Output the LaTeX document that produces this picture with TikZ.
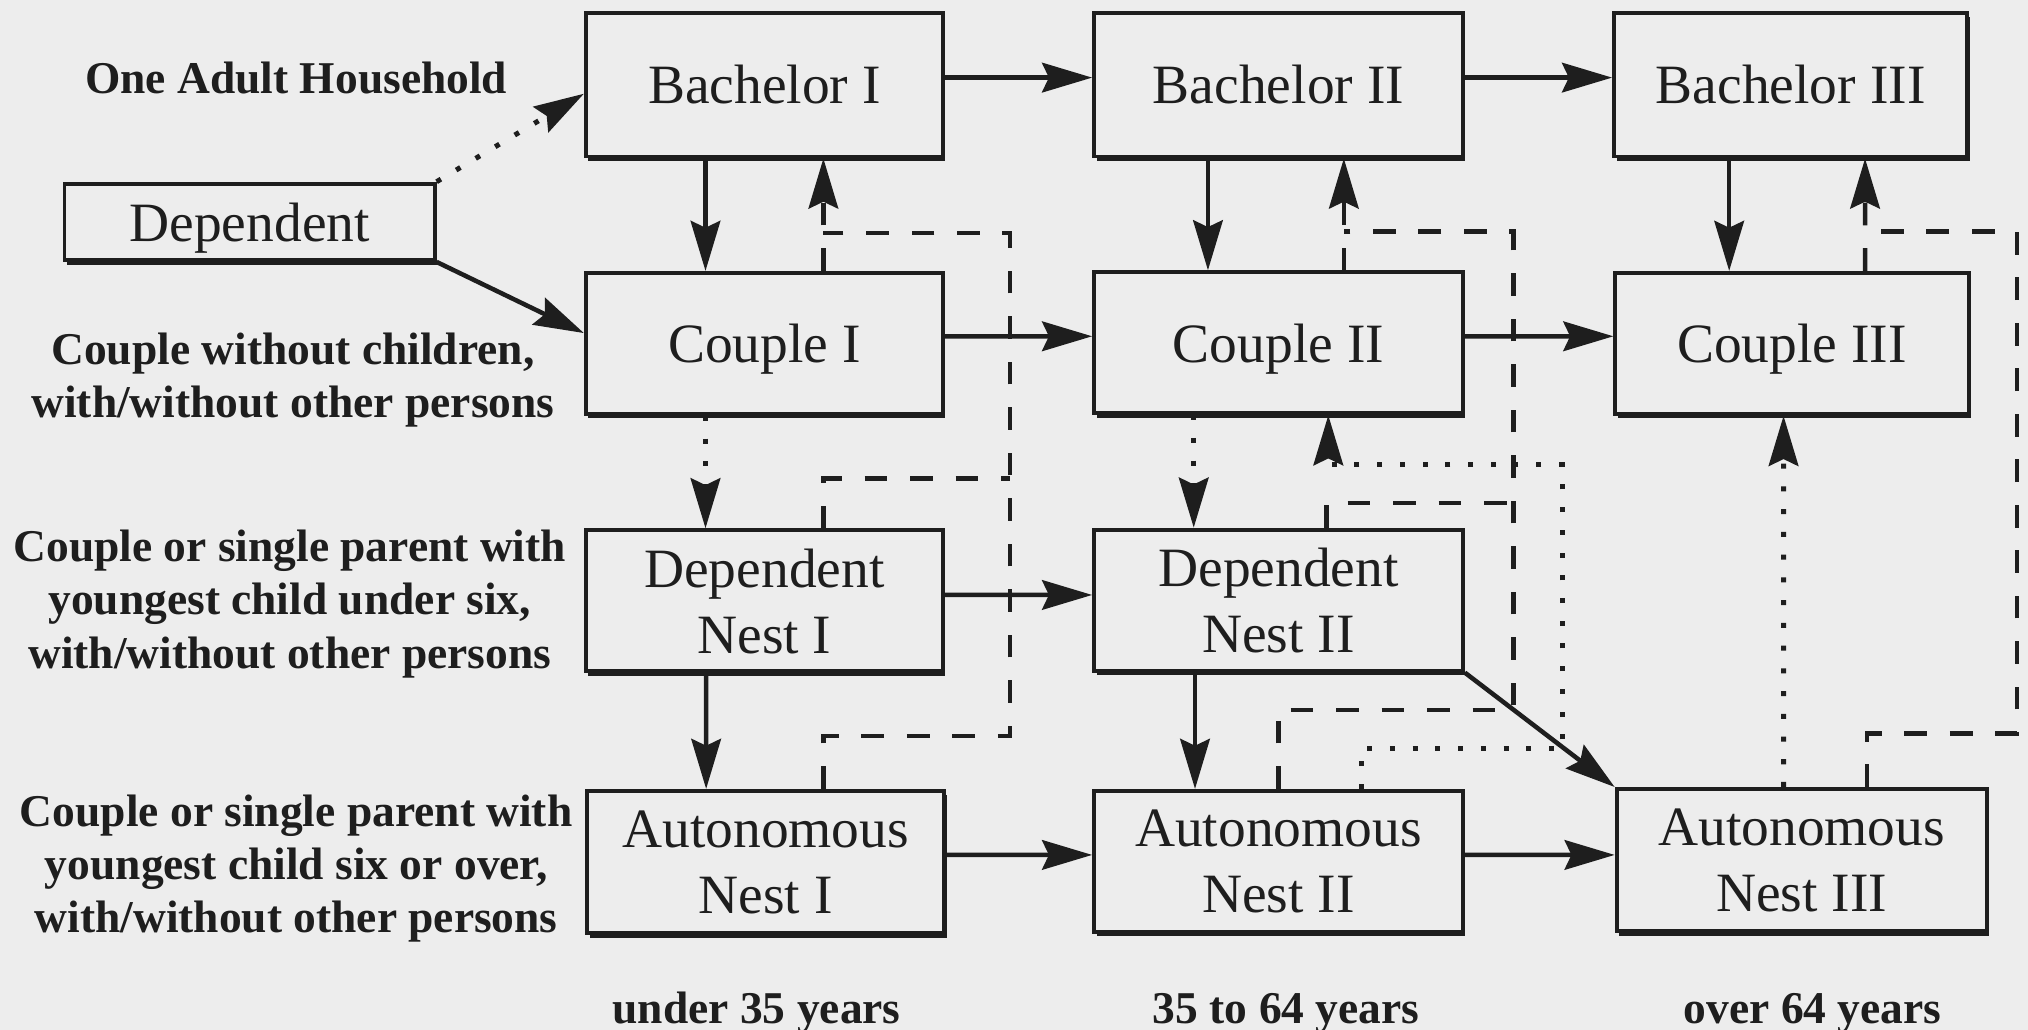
\documentclass[tikz,border=0pt]{standalone}
\usepackage{fontspec}
\setmainfont{Liberation Serif}
\usetikzlibrary{arrows.meta,shadows}
\definecolor{paper}{RGB}{237,237,237}
\definecolor{ink}{RGB}{30,30,30}
\begin{document}
\begin{tikzpicture}[x=0.01cm,y=-0.01cm,
  stage/.style={draw=ink, line width=0.85pt, fill=paper, inner sep=0pt, align=center,
    text=ink, text depth=0pt, font=\fontsize{12.2}{14.5}\selectfont,
    drop shadow={shadow xshift=0.55pt, shadow yshift=-1.0pt, opacity=1, fill=ink}},
  grouplabel/.style={inner sep=0pt, align=center, text=ink,
    font=\fontsize{10}{11.7}\selectfont\bfseries},
  flow/.style={draw=ink, line width=1pt, -{Stealth[length=11pt,width=6.5pt,inset=1.5pt]}},
  dotway/.style={draw=ink, line width=1.1pt, dash pattern=on 1.1pt off 3.9pt},
  dashway/.style={draw=ink, line width=1pt, dash pattern=on 5pt off 5pt}]

% page and background
\useasboundingbox (0,0) rectangle (1568,796);
\clip (0,0) rectangle (1568,796);
\fill[paper] (0,0) rectangle (1568,796);

% life-cycle stages
\node[stage, minimum width=2.76cm, minimum height=1.11cm] (b1) at (591,65.5) {Bachelor I};
\node[stage, minimum width=2.85cm, minimum height=1.11cm] (b2) at (988.5,65.5) {Bachelor II};
\node[stage, minimum width=2.73cm, minimum height=1.11cm] (b3) at (1384.5,65.5) {Bachelor III};
\node[stage, minimum width=2.76cm, minimum height=1.09cm] (c1) at (591,265.5) {Couple I};
\node[stage, minimum width=2.85cm, minimum height=1.09cm] (c2) at (988.5,265) {Couple II};
\node[stage, minimum width=2.73cm, minimum height=1.09cm] (c3) at (1385.5,265.5) {Couple III};
\node[stage, minimum width=2.76cm, minimum height=1.09cm] (d1) at (591,464.5) {Dependent\\Nest I};
\node[stage, minimum width=2.85cm, minimum height=1.09cm] (d2) at (988.5,464) {Dependent\\Nest II};
\node[stage, minimum width=2.76cm, minimum height=1.10cm] (a1) at (592,666.5) {Autonomous\\Nest I};
\node[stage, minimum width=2.85cm, minimum height=1.09cm] (a2) at (988.5,666) {Autonomous\\Nest II};
\node[stage, minimum width=2.86cm, minimum height=1.10cm] (a3) at (1393,665) {Autonomous\\Nest III};
\node[stage, minimum width=2.86cm, minimum height=0.59cm] (dep) at (193,171.5) {Dependent};

% row and column captions
\node[grouplabel] (lone) at (229,60) {One Adult Household};
\node[grouplabel] (lcouple) at (226.5,293.7) {Couple without children,\\with/without other persons};
\node[grouplabel] (lyoung) at (224,467) {Couple or single parent with\\youngest child under six,\\with/without other persons};
\node[grouplabel] (lolder) at (229,671.5) {Couple or single parent with\\youngest child six or over,\\with/without other persons};
\node[grouplabel, anchor=base] (age1) at (585,791) {under 35 years};
\node[grouplabel, anchor=base] (age2) at (994.5,791) {35 to 64 years};
\node[grouplabel, anchor=base] (age3) at (1401.5,791) {over 64 years};

% junctions of the dashed return routes
\coordinate (j1) at (636.6,180);
\coordinate (t1) at (781,370);
\coordinate (j2) at (1039,179);
\coordinate (t2) at (1170,389);
\coordinate (j3) at (1442,179);

% ageing: left to right
\draw[flow] ([yshift=0.055cm]b1.east) -- ([yshift=0.055cm]b2.west);
\draw[flow] ([yshift=0.055cm]b2.east) -- ([yshift=0.055cm]b3.west);
\draw[flow] ([yshift=0.055cm]c1.east) -- ([yshift=0.05cm]c2.west);
\draw[flow] ([yshift=0.05cm]c2.east) -- ([yshift=0.055cm]c3.west);
\draw[flow] ([yshift=0.045cm]d1.east) -- ([yshift=0.04cm]d2.west);
\draw[flow] ([yshift=0.055cm]a1.east) -- ([yshift=0.05cm]a2.west);
\draw[flow] ([yshift=0.05cm]a2.east) -- ([yshift=0.04cm]a3.west);

% household changes: downwards
\draw[flow] ([xshift=-0.455cm]b1.south) -- ([xshift=-0.455cm]c1.north);
\draw[flow] ([xshift=-0.545cm]b2.south) -- ([xshift=-0.545cm]c2.north);
\draw[flow] ([xshift=-0.475cm]b3.south) -- ([xshift=-0.485cm]c3.north);
\draw[flow] ([xshift=-0.45cm]d1.south) -- ([xshift=-0.46cm]a1.north);
\draw[flow] ([xshift=-0.645cm]d2.south) -- ([xshift=-0.645cm]a2.north);
\draw[flow] (d2.south east) -- (a3.north west);
\draw[flow] (dep.south east) -- ([yshift=0.08cm]c1.west);

% dotted transitions
\draw[flow,dotway] (dep.north east) -- ([yshift=-0.07cm]b1.west);
\draw[flow,dotway] ([xshift=-0.455cm]c1.south) -- ([xshift=-0.455cm]d1.north);
\draw[flow,dotway] ([xshift=-0.655cm]c2.south) -- ([xshift=-0.655cm]d2.north);
\draw[flow,dotway] ([xshift=-0.14cm]a3.north) -- ([xshift=-0.065cm]c3.south);
\draw[flow,dotway] ([xshift=0.643cm]a2.north) |- (1208,579) -- (1208,359.5)
  -| ([xshift=0.385cm]c2.south);

% dashed returns to the one adult household
\draw[flow,dashway] ([xshift=0.456cm]c1.north) -- ([xshift=0.456cm]b1.south);
\draw[dashway] ([xshift=0.446cm]a1.north) |- (781,569) -- (781,180) -- (j1);
\draw[dashway] ([xshift=0.456cm]d1.north) |- (t1);
\draw[flow,dashway] ([xshift=0.505cm]c2.north) -- ([xshift=0.505cm]b2.south);
\draw[dashway] (a2.north) |- (1170,549) -- (1170,179) -- (j2);
\draw[dashway] ([xshift=0.372cm]d2.north) |- (t2);
\draw[flow,dashway] ([xshift=0.565cm]c3.north) -- ([xshift=0.575cm]b3.south);
\draw[dashway] ([xshift=0.506cm]a3.north) |- (1559.5,567) -- (1559.5,179) -- (j3);
\end{tikzpicture}
\end{document}
